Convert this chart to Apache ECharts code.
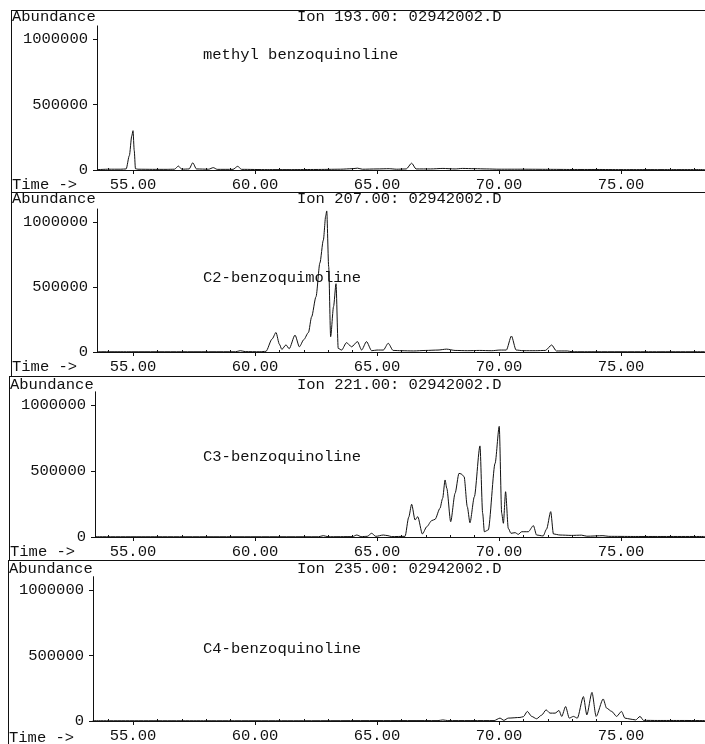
<!DOCTYPE html>
<html>
<head>
<meta charset="utf-8">
<title>Extracted ion chromatograms – benzoquinolines</title>
<script src="https://cdn.jsdelivr.net/npm/echarts@6/dist/echarts.min.js"></script>
<style>
  html, body { margin: 0; padding: 0; background: #fff; }
  #chart { width: 705px; height: 744px; }
</style>
</head>
<body>
<div id="chart"></div>
<script>
// Ion traces: [retention time (min), abundance]
const ion193 = [
  [53.55, 3000], [54.0, 6000], [54.5, 6000], [54.72, 8000], [54.85, 110000], [54.95, 260000],
  [55.0, 300000], [55.05, 150000], [55.1, 10000], [55.2, 6000], [55.8, 5000], [56.4, 5000],
  [56.7, 6000], [56.86, 30000], [57.0, 6000], [57.3, 8000], [57.45, 55000], [57.6, 8000],
  [58.1, 6000], [58.29, 18000], [58.45, 5000], [59.1, 5000], [59.29, 28000], [59.45, 5000],
  [60.5, 3000], [61.5, 3000], [62.5, 4000], [63.5, 6000], [64.0, 10000], [64.2, 14000],
  [64.4, 6000], [65.0, 8000], [65.5, 10000], [65.8, 6000], [66.2, 8000], [66.42, 52000],
  [66.6, 8000], [67.2, 8000], [67.7, 12000], [68.2, 8000], [68.5, 12000], [69.0, 10000],
  [69.5, 8000], [70.0, 6000], [71.0, 6000], [72.0, 5000], [73.0, 4000], [74.0, 4000],
  [75.0, 3000], [76.0, 3000], [77.0, 3000], [78.44, 3000]
];
const ion207 = [
  [53.55, 2000], [55.0, 2000], [57.0, 2000], [59.2, 2000], [59.4, 10000], [59.6, 3000],
  [60.2, 2000], [60.45, 5000], [60.7, 100000], [60.86, 150000], [61.0, 60000], [61.1, 20000],
  [61.27, 55000], [61.4, 25000], [61.64, 130000], [61.82, 40000], [62.0, 95000], [62.19, 150000],
  [62.32, 270000], [62.5, 425000], [62.66, 685000], [62.8, 860000], [62.9, 1050000],
  [62.94, 1085000], [63.02, 656000], [63.1, 118000], [63.22, 350000], [63.32, 525000],
  [63.41, 28000], [63.55, 15000], [63.75, 72000], [63.96, 40000], [64.2, 80000], [64.37, 15000],
  [64.57, 80000], [64.78, 10000], [65.0, 15000], [65.26, 15000], [65.46, 67000], [65.66, 12000],
  [66.0, 10000], [66.5, 8000], [67.0, 12000], [67.5, 15000], [67.85, 22000], [68.2, 12000],
  [68.7, 10000], [69.2, 12000], [69.7, 10000], [70.04, 15000], [70.3, 15000], [70.51, 123000],
  [70.7, 15000], [71.0, 10000], [71.5, 10000], [71.9, 12000], [72.16, 54000], [72.35, 8000],
  [72.8, 8000], [73.0, 2000], [74.0, 2000], [76.0, 2000], [78.44, 2000]
];
const ion221 = [
  [53.45, 2000], [56.0, 2000], [60.0, 2000], [62.6, 2000], [62.8, 10000], [63.0, 2000],
  [64.0, 3000], [64.17, 15000], [64.35, 3000], [64.6, 5000], [64.78, 28000], [64.95, 5000],
  [65.26, 15000], [65.45, 10000], [65.6, 3000], [66.15, 5000], [66.3, 150000], [66.42, 248000],
  [66.56, 129000], [66.67, 154000], [66.86, 23000], [67.04, 78000], [67.24, 124000],
  [67.38, 134000], [67.58, 217000], [67.69, 293000], [67.79, 432000], [67.86, 369000],
  [68.02, 116000], [68.2, 331000], [68.36, 482000], [68.45, 478000], [68.57, 457000],
  [68.7, 230000], [68.81, 108000], [68.99, 305000], [69.22, 690000], [69.33, 180000],
  [69.4, 40000], [69.56, 53000], [69.84, 558000], [70.01, 838000], [70.11, 180000],
  [70.18, 104000], [70.27, 343000], [70.38, 66000], [70.49, 28000], [70.66, 33000],
  [70.79, 20000], [70.93, 40000], [71.2, 40000], [71.41, 86000], [71.54, 15000], [71.81, 8000],
  [71.95, 60000], [72.12, 192000], [72.23, 23000], [72.5, 15000], [72.97, 12000], [73.38, 14000],
  [73.6, 6000], [74.26, 10000], [74.5, 5000], [75.5, 4000], [76.5, 4000], [78.44, 4000]
];
const ion235 = [
  [53.35, 2000], [58.0, 2000], [62.0, 2000], [65.0, 3000], [67.5, 3000], [67.7, 8000],
  [67.9, 3000], [69.8, 3000], [70.04, 22000], [70.2, 5000], [70.38, 22000], [70.86, 27000],
  [71.0, 33000], [71.16, 73000], [71.34, 35000], [71.54, 17000], [71.75, 45000], [71.93, 85000],
  [72.09, 60000], [72.3, 60000], [72.46, 80000], [72.57, 35000], [72.73, 110000], [72.88, 22000],
  [73.05, 35000], [73.21, 22000], [73.46, 186000], [73.6, 47000], [73.81, 218000], [73.98, 35000],
  [74.27, 168000], [74.41, 98000], [74.62, 73000], [74.82, 35000], [75.02, 73000], [75.16, 22000],
  [75.37, 15000], [75.6, 8000], [75.78, 35000], [75.92, 5000], [76.5, 4000], [77.5, 4000],
  [78.44, 3000]
];

const traces = [ion193, ion207, ion221, ion235];
const ionTitles = ['Ion 193.00: 02942002.D', 'Ion 207.00: 02942002.D',
                   'Ion 221.00: 02942002.D', 'Ion 235.00: 02942002.D'];
const compoundNames = ['methyl benzoquinoline', 'C2-benzoquimoline',
                       'C3-benzoquinoline', 'C4-benzoquinoline'];
const timeTicks = [55, 60, 65, 70, 75];
const timeMinorTicks = [54, 56, 57, 58, 59, 61, 62, 63, 64, 66, 67, 68, 69, 71, 72, 73, 74, 76, 77, 78];
const abundanceTicks = [0, 500000, 1000000];
const abundanceMinorTicks = [100000, 200000, 300000, 400000, 600000, 700000, 800000, 900000, 1100000];

// Page layout of the four stacked panels (pixels)
const zeroY   = [170, 352, 537, 723];   // baseline of each plot
const oneMY   = [39, 222, 405, 590];    // where 1000000 sits
const axisX   = [97, 97, 95, 93];       // y-axis position
const ruleY   = [10, 192, 376, 560];    // horizontal rule above each panel
const borderX = [11, 11, 9, 8];         // left frame line
const headY   = [17, 199, 385, 569];    // "Abundance" / ion title row
const noteY   = [55, 278, 457, 649];    // compound label row
const W = 705, H = 744;
const yMax = 1100000;
const pxPerMin = 24.4, x55 = 133;
const tMax = 55 + (W - x55) / pxPerMin;

const FONT = 'Liberation Mono, DejaVu Sans Mono, monospace';
const FS = 15.5;
const INK = '#111';

const grids = [], xAxes = [], yAxes = [], series = [], graphics = [];

traces.forEach((trace, p) => {
  const pxPerUnit = (zeroY[p] - oneMY[p]) / 1000000;
  const h = yMax * pxPerUnit;
  grids.push({ left: axisX[p], right: 0, top: zeroY[p] - h, height: h, containLabel: false });
  const tMin = 55 - (x55 - axisX[p]) / pxPerMin;

  // main time axis with labelled ticks
  xAxes.push({
    type: 'value', gridIndex: p, min: tMin, max: tMax,
    axisLine: { show: true, lineStyle: { color: INK, width: 1 } },
    axisTick: { show: true, customValues: timeTicks, length: 4, lineStyle: { color: INK } },
    axisLabel: { show: true, customValues: timeTicks, margin: 7, color: INK,
                 fontFamily: FONT, fontSize: FS, formatter: v => v.toFixed(2) },
    splitLine: { show: false }
  });
  // minute ticks
  xAxes.push({
    type: 'value', gridIndex: p, min: tMin, max: tMax,
    axisLine: { show: false },
    axisTick: { show: true, customValues: timeMinorTicks, length: 2, lineStyle: { color: INK } },
    axisLabel: { show: false },
    splitLine: { show: false }
  });

  yAxes.push({
    type: 'value', gridIndex: p, min: 0, max: yMax,
    axisLine: { show: true, lineStyle: { color: INK, width: 1 } },
    axisTick: { show: true, customValues: abundanceTicks, length: 4, lineStyle: { color: INK } },
    axisLabel: { show: true, customValues: abundanceTicks, margin: 9, color: INK,
                 fontFamily: FONT, fontSize: FS, formatter: v => String(v) },
    splitLine: { show: false }
  });
  yAxes.push({
    type: 'value', gridIndex: p, min: 0, max: yMax,
    axisLine: { show: false },
    axisTick: { show: true, customValues: abundanceMinorTicks, length: 2, lineStyle: { color: INK } },
    axisLabel: { show: false },
    splitLine: { show: false }
  });

  series.push({
    type: 'line', xAxisIndex: 2 * p, yAxisIndex: 2 * p,
    data: trace, showSymbol: false, symbol: 'none',
    smooth: 0.25, smoothMonotone: 'x',
    lineStyle: { color: INK, width: 1 }, clip: true, silent: true
  });

  // frame lines
  graphics.push({ type: 'line', silent: true,
    shape: { x1: borderX[p], y1: ruleY[p] + 0.5, x2: W, y2: ruleY[p] + 0.5 },
    style: { stroke: INK, lineWidth: 1 } });
  const bottom = p < 3 ? ruleY[p + 1] : H;
  graphics.push({ type: 'line', silent: true,
    shape: { x1: borderX[p] + 0.5, y1: ruleY[p], x2: borderX[p] + 0.5, y2: bottom },
    style: { stroke: INK, lineWidth: 1 } });

  // text rows
  const txt = (text, x, y) => ({ type: 'text', silent: true, x: x, y: y,
    style: { text: text, fill: INK, fontFamily: FONT, fontSize: FS,
             textAlign: 'left', textVerticalAlign: 'middle' } });
  graphics.push(txt('Abundance', borderX[p] + 1, headY[p]));
  graphics.push(txt(ionTitles[p], 297, headY[p]));
  graphics.push(txt(compoundNames[p], 203, noteY[p]));
  graphics.push(txt('Time ->', borderX[p] + 1, zeroY[p] + 15));
});

const chart = echarts.init(document.getElementById('chart'), null, { renderer: 'canvas' });
chart.setOption({
  backgroundColor: '#fff',
  animation: false,
  grid: grids,
  xAxis: xAxes,
  yAxis: yAxes,
  series: series,
  graphic: graphics
});
</script>
</body>
</html>
